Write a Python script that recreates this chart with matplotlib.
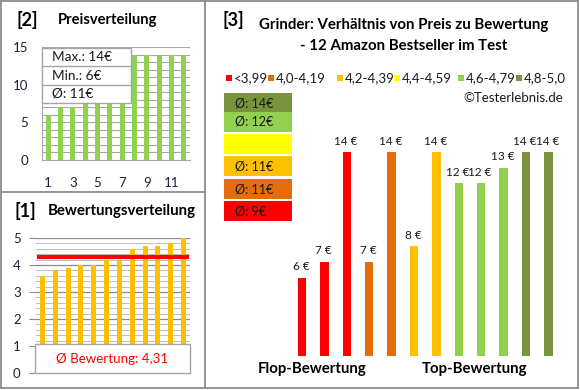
import matplotlib
matplotlib.use("Agg")
import matplotlib.pyplot as plt
from matplotlib.patches import Rectangle
import numpy as np

plt.rcParams['font.family'] = ['Lato', 'DejaVu Sans']

# ---------------- data ----------------
prices = [6, 7, 14, 7, 14, 8, 14, 12, 12, 13, 14, 14]          # panel 3, ordered by rating
ratings = [3.6, 3.8, 3.9, 4.0, 4.0, 4.2, 4.2, 4.6, 4.7, 4.7, 4.8, 5.0]
avg_rating = 4.31
price_ticks = [1, 3, 5, 7, 9, 11]
bin_labels = ["<3,99", "4,0-4,19", "4,2-4,39", "4,4-4,59", "4,6-4,79", "4,8-5,0"]
bin_edges = [0, 4.0, 4.2, 4.4, 4.6, 4.8, 5.01]
bin_colors = ["#FF0000", "#E46C0A", "#FFC000", "#FFFF00", "#92D050", "#77933C"]

W, H = 580, 390
fig = plt.figure(figsize=(W / 100, H / 100), dpi=100)


def fx(x):
    return x / W


def fy(y):
    return 1 - y / H


def axes_px(x0, y0, x1, y1):
    return fig.add_axes([fx(x0), fy(y1), (x1 - x0) / W, (y1 - y0) / H])


grey = "#8C8C8C"
txt = "#1A1A1A"
# borders
for (xa, ya, xb, yb) in [(1, 1, 578, 1), (1, 388, 578, 388), (1, 1, 1, 388), (578, 1, 578, 388),
                         (205, 1, 205, 388), (1, 192, 205, 192)]:
    fig.add_artist(plt.Line2D([fx(xa), fx(xb)], [fy(ya), fy(yb)], color=grey, lw=1.3))

n = len(prices)
idx = np.arange(1, n + 1)

# ---------------- panel [2] Preisverteilung ----------------
sorted_prices = sorted(prices)
ax2 = axes_px(42, 47, 190, 160)
ax2.bar(idx, sorted_prices, width=0.42, color="#92D050", zorder=3)
ax2.set_xlim(0.5, n + 0.5)
ax2.set_ylim(0, 15)
ax2.set_yticks([0, 5, 10, 15])
ax2.set_yticks(np.arange(0, 16, 1), minor=True)
ax2.set_xticks(price_ticks)
ax2.grid(axis='y', which='both', color="#A6A6A6", lw=0.8, zorder=0)
for s in ['top', 'right']:
    ax2.spines[s].set_visible(False)
for s in ['left', 'bottom']:
    ax2.spines[s].set_color("#A6A6A6")
ax2.tick_params(axis='both', which='both', length=0, labelsize=9.5, colors="#1F1F3F")
ax2.tick_params(axis='x', pad=12)
ax2.tick_params(axis='y', pad=10)

fig.text(fx(17), fy(20), "[2]", fontsize=13, fontweight='bold', va='center', ha='left')
fig.text(fx(58), fy(20), "Preisverteilung", fontsize=10.6, fontweight='bold', va='center', ha='left')

pmax, pmin = max(prices), min(prices)
pavg = int(np.mean(prices) + 0.5)
box_rows = [f"Max.: {pmax}€", f"Min.: {pmin}€", f"Ø: {pavg}€"]
bx0, bx1, by0, by1 = 42, 131, 48, 103
fig.add_artist(Rectangle((fx(bx0), fy(by1)), (bx1 - bx0) / W, (by1 - by0) / H,
                         facecolor="white", edgecolor="#A6A6A6", lw=1, zorder=5))
rh = (by1 - by0) / 3
for i, t in enumerate(box_rows):
    if i > 0:
        fig.add_artist(plt.Line2D([fx(bx0), fx(bx1)], [fy(by0 + i * rh)] * 2, color="#A6A6A6", lw=1, zorder=6))
    fig.text(fx(bx0 + 10), fy(by0 + (i + 0.5) * rh), t, fontsize=9.8, va='center', ha='left', zorder=7,
             color=txt)

# ---------------- panel [1] Bewertungsverteilung ----------------
ax1 = axes_px(36, 238, 190, 373)
ax1.bar(idx, ratings, width=0.38, color="#FFC000", zorder=3)
ax1.plot([0.75, n + 0.3], [avg_rating, avg_rating], color="#FF0000", lw=3, zorder=4)
ax1.set_xlim(0.5, n + 0.5)
ax1.set_ylim(0, 5)
ax1.set_yticks([0, 1, 2, 3, 4, 5])
ax1.set_yticks(np.arange(0, 5.01, 0.2), minor=True)
ax1.set_xticks([])
ax1.grid(axis='y', which='minor', color="#BFBFBF", lw=0.7, zorder=0)
ax1.grid(axis='y', which='major', color="#8C8C8C", lw=0.9, zorder=0)
for s in ['top', 'right', 'left']:
    ax1.spines[s].set_visible(False)
ax1.spines['bottom'].set_color("#A6A6A6")
ax1.tick_params(axis='y', which='major', length=5, color="#8C8C8C", labelsize=9.5, colors="#1F1F3F", pad=6)
ax1.tick_params(axis='y', which='minor', length=0)

fig.text(fx(15), fy(211), "[1]", fontsize=13, fontweight='bold', va='center', ha='left')
fig.text(fx(48), fy(211), "Bewertungsverteilung", fontsize=10.8, fontweight='bold', va='center', ha='left')

fig.add_artist(Rectangle((fx(35), fy(373)), (190 - 35) / W, (373 - 344) / H,
                         facecolor="white", edgecolor="#A6A6A6", lw=1, zorder=5))
fig.text(fx(112), fy(359), "Ø Bewertung: " + f"{avg_rating:.2f}".replace(".", ","),
         fontsize=9.6, color="#FF0000", va='center', ha='center', zorder=7)

# ---------------- panel [3] ----------------
bins = np.digitize(ratings, bin_edges) - 1
bar_colors = [bin_colors[b] for b in bins]

k = (356 - 152) / 13.0
ax3 = axes_px(290.8, 356 - 14 * k, 290.8 + 12 * 22.4, 356)
ax3.bar(idx, prices, width=0.38, color=bar_colors, zorder=3)
ax3.set_xlim(0.5, n + 0.5)
ax3.set_ylim(1, 15)
ax3.axis('off')
for i, p in zip(idx, prices):
    ax3.text(i - 0.05, p + 0.35, f"{p} €", ha='center', va='bottom', fontsize=8.5, color=txt)

fig.text(fx(223), fy(20), "[3]", fontsize=13, fontweight='bold', va='center', ha='left')
fig.text(fx(404), fy(25), "Grinder: Verhältnis von Preis zu Bewertung", fontsize=10.8, fontweight='bold',
         va='center', ha='center')
fig.text(fx(404), fy(46), "- 12 Amazon Bestseller im Test", fontsize=10.8, fontweight='bold',
         va='center', ha='center')

leg_x = [226, 268, 337, 394, 458, 516]
for x, lab, c in zip(leg_x, bin_labels, bin_colors):
    fig.add_artist(Rectangle((fx(x), fy(81)), 6 / W, 6 / H, facecolor=c, edgecolor='none'))
    fig.text(fx(x + 8), fy(78), lab, fontsize=9.5, va='center', ha='left', color=txt)

fig.text(fx(563), fy(98), "©Testerlebnis.de", fontsize=9.5, va='center', ha='right', color=txt)

# group average boxes (top: best rating group)
box_tops = [93, 112, 134, 156, 179, 201]
for j, top in enumerate(box_tops):
    b = len(bin_colors) - 1 - j
    members = [p for p, bb in zip(prices, bins) if bb == b]
    fig.add_artist(Rectangle((fx(224), fy(top + 20)), 68 / W, 20 / H, facecolor=bin_colors[b],
                             edgecolor='none'))
    if members:
        avg = int(np.mean(members) + 0.5)
        fig.text(fx(235), fy(top + 10), f"Ø: {avg}€", fontsize=9, va='center', ha='left', color=txt)

fig.text(fx(312), fy(369), "Flop-Bewertung", fontsize=10.8, fontweight='bold', va='center', ha='center')
fig.text(fx(474), fy(369), "Top-Bewertung", fontsize=10.8, fontweight='bold', va='center', ha='center')

fig.savefig("out.png", dpi=100)
